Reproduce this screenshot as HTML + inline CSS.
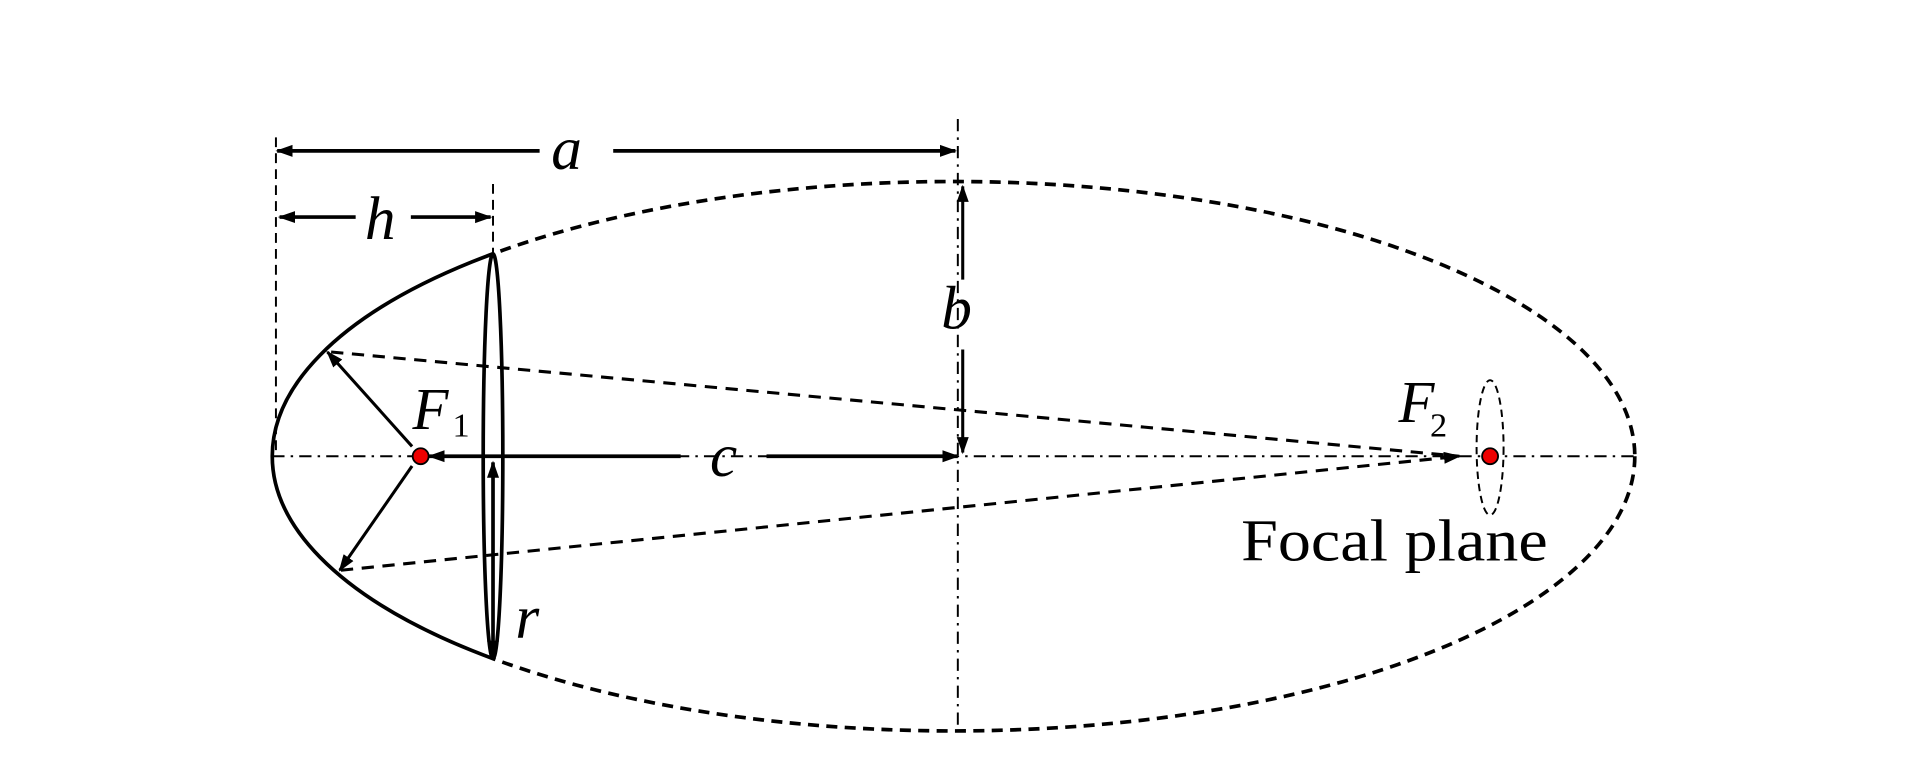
<!DOCTYPE html>
<html><head><meta charset="utf-8"><style>
html,body{margin:0;padding:0;background:#fff;}
svg{display:block;}
text{font-family:"Liberation Serif",serif;fill:#000;}
</style></head><body>
<svg width="1923" height="780" viewBox="0 0 1568 636" xmlns="http://www.w3.org/2000/svg">
<defs>
<marker id="ar2" viewBox="0 0 10 10" refX="9" refY="5" markerWidth="14" markerHeight="14" orient="auto-start-reverse" markerUnits="userSpaceOnUse">
<path d="M0,1.5 L10,5 L0,8.5 Z" fill="#000"/>
</marker>
<clipPath id="cl"><rect x="0" y="0" width="402" height="636"/></clipPath>
<clipPath id="cr"><rect x="402" y="0" width="1200" height="636"/></clipPath>
</defs>
<rect width="1568" height="636" fill="#fff"/>
<!-- ellipse -->
<ellipse cx="777.5" cy="372" rx="555.5" ry="224" fill="none" stroke="#000" stroke-width="3" clip-path="url(#cl)"/>
<ellipse cx="777.5" cy="372" rx="555.5" ry="224" fill="none" stroke="#000" stroke-width="3" stroke-dasharray="9,6" clip-path="url(#cr)"/>
<!-- axes -->
<line x1="222" y1="372" x2="1333" y2="372" stroke="#000" stroke-width="1.6" stroke-dasharray="10,5,2,5"/>
<line x1="781" y1="97" x2="781" y2="597" stroke="#000" stroke-width="1.6" stroke-dasharray="10,5,2,5"/>
<line x1="225" y1="112" x2="225" y2="372" stroke="#000" stroke-width="1.6" stroke-dasharray="8,5"/>
<line x1="402" y1="150" x2="402" y2="209" stroke="#000" stroke-width="1.6" stroke-dasharray="8,5"/>
<!-- lens -->
<ellipse cx="402" cy="372" rx="8" ry="165" fill="none" stroke="#000" stroke-width="3"/>
<!-- dimension a -->
<line x1="226" y1="123" x2="440" y2="123" stroke="#000" stroke-width="3" marker-start="url(#ar2)"/>
<line x1="500" y1="123" x2="779" y2="123" stroke="#000" stroke-width="3" marker-end="url(#ar2)"/>
<text x="462" y="138" font-size="50" font-style="italic" text-anchor="middle">a</text>
<!-- h -->
<line x1="228" y1="177" x2="290" y2="177" stroke="#000" stroke-width="3" marker-start="url(#ar2)"/>
<line x1="335" y1="177" x2="400" y2="177" stroke="#000" stroke-width="3" marker-end="url(#ar2)"/>
<text x="310" y="195" font-size="50" font-style="italic" text-anchor="middle">h</text>
<!-- b -->
<line x1="785" y1="152" x2="785" y2="228" stroke="#000" stroke-width="2.5" marker-start="url(#ar2)"/>
<line x1="785" y1="285" x2="785" y2="369" stroke="#000" stroke-width="2.5" marker-end="url(#ar2)"/>
<text x="780" y="268" font-size="50" font-style="italic" text-anchor="middle">b</text>
<!-- c -->
<line x1="350" y1="372" x2="555" y2="372" stroke="#000" stroke-width="3" marker-start="url(#ar2)"/>
<line x1="625" y1="372" x2="781" y2="372" stroke="#000" stroke-width="3" marker-end="url(#ar2)"/>
<text x="590" y="388" font-size="50" font-style="italic" text-anchor="middle">c</text>
<!-- r -->
<line x1="402" y1="377" x2="402" y2="535" stroke="#000" stroke-width="3" marker-start="url(#ar2)" marker-end="url(#ar2)"/>
<text x="430" y="520" font-size="50" font-style="italic" text-anchor="middle">r</text>
<!-- rays -->
<line x1="270" y1="287" x2="1190" y2="372" stroke="#000" stroke-width="2.5" stroke-dasharray="10,7"/>
<line x1="278" y1="465" x2="1190" y2="372" stroke="#000" stroke-width="2.5" stroke-dasharray="10,7" marker-end="url(#ar2)"/>
<line x1="336" y1="364" x2="267" y2="287" stroke="#000" stroke-width="2.5" marker-end="url(#ar2)"/>
<line x1="336" y1="380" x2="277" y2="465" stroke="#000" stroke-width="2.5" marker-end="url(#ar2)"/>
<!-- foci -->
<circle cx="343" cy="372" r="6.5" fill="#e00" stroke="#000" stroke-width="1.5"/>
<circle cx="1215" cy="372" r="6.5" fill="#e00" stroke="#000" stroke-width="1.5"/>
<ellipse cx="1215" cy="365" rx="11" ry="55" fill="none" stroke="#000" stroke-width="1.6" stroke-dasharray="6,4"/>
<text x="351" y="350" font-size="48" font-style="italic" text-anchor="middle">F</text>
<text x="369" y="356" font-size="28">1</text>
<text x="1155" y="344" font-size="48" font-style="italic" text-anchor="middle">F</text>
<text x="1166" y="356" font-size="28">2</text>
<text x="1012" y="457" font-size="48" textLength="250" lengthAdjust="spacingAndGlyphs">Focal plane</text>
</svg>
</body></html>
